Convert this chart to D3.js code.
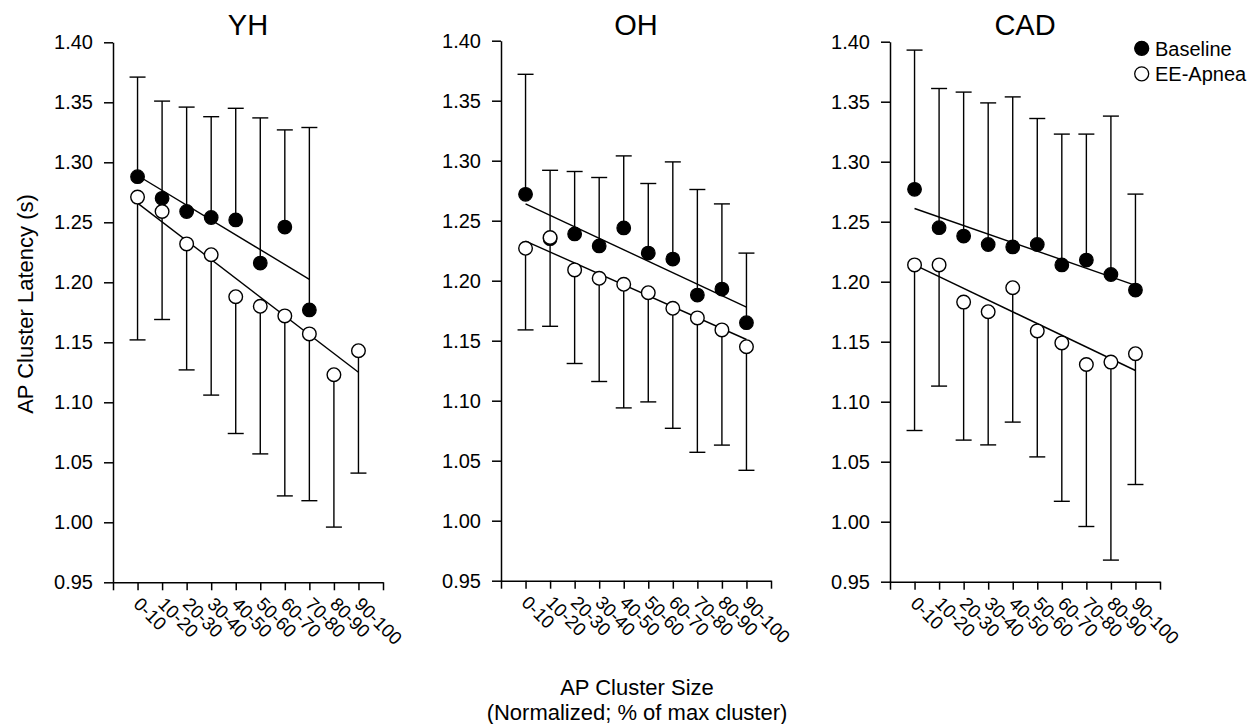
<!DOCTYPE html>
<html>
<head>
<meta charset="utf-8">
<script src="https://cdn.jsdelivr.net/npm/d3@7"></script>
<style>
  html, body { margin: 0; padding: 0; background: #fff; }
  svg { display: block; font-family: "Liberation Sans", Arial, sans-serif; }
</style>
</head>
<body>
<svg id="chart" width="1255" height="724"></svg>
<script>
// ---------------- data ----------------
const categories = ["0-10","10-20","20-30","30-40","40-50","50-60","60-70","70-80","80-90","90-100"];
const panelNames = ["YH", "OH", "CAD"];
const seriesNames = ["Baseline", "EE-Apnea"];
const yTicks = [0.95, 1.00, 1.05, 1.10, 1.15, 1.20, 1.25, 1.30, 1.35, 1.40];

// YH
const yhBaseline      = [1.288, 1.270, 1.259, 1.254, 1.252, 1.216, 1.246, 1.177, null, null];
const yhBaselineUpper = [1.371, 1.351, 1.346, 1.338, 1.345, 1.337, 1.327, 1.329, null, null];
const yhApnea         = [1.271, 1.259, 1.232, 1.223, 1.188, 1.180, 1.172, 1.157, 1.123, 1.143];
const yhApneaLower    = [1.152, 1.169, 1.127, 1.106, 1.074, 1.057, 1.022, 1.018, 0.996, 1.041];
const yhBaselineFit   = [1.289, 1.2025];   // from 0-10 to 70-80
const yhApneaFit      = [1.266, 1.125];    // from 0-10 to 90-100

// OH
const ohBaseline      = [1.272, 1.235, 1.239, 1.229, 1.244, 1.223, 1.218, 1.188, 1.193, 1.165];
const ohBaselineUpper = [1.372, 1.292, 1.291, 1.286, 1.304, 1.281, 1.299, 1.276, 1.264, 1.223];
const ohApnea         = [1.227, 1.236, 1.209, 1.202, 1.197, 1.190, 1.177, 1.169, 1.159, 1.145];
const ohApneaLower    = [1.159, 1.162, 1.131, 1.116, 1.094, 1.099, 1.077, 1.057, 1.063, 1.042];
const ohBaselineFit   = [1.264, 1.178];
const ohApneaFit      = [1.233, 1.151];

// CAD
const cadBaseline      = [1.277, 1.245, 1.238, 1.231, 1.229, 1.231, 1.214, 1.218, 1.206, 1.193];
const cadBaselineUpper = [1.393, 1.361, 1.358, 1.349, 1.354, 1.336, 1.323, 1.323, 1.338, 1.273];
const cadApnea         = [1.214, 1.214, 1.183, 1.175, 1.195, 1.159, 1.149, 1.131, 1.133, 1.140];
const cadApneaLower    = [1.076, 1.113, 1.068, 1.064, 1.083, 1.054, 1.017, 0.996, 0.968, 1.031];
const cadBaselineFit   = [1.261, 1.197];
const cadApneaFit      = [1.214, 1.126];

// ---------------- assemble ----------------
const panels = [
  { name: panelNames[0], base: yhBaseline, baseUp: yhBaselineUpper, ap: yhApnea, apLow: yhApneaLower,
    baseFit: yhBaselineFit, baseFitRange: [categories[0], categories[7]],
    apFit: yhApneaFit, apFitRange: [categories[0], categories[9]] },
  { name: panelNames[1], base: ohBaseline, baseUp: ohBaselineUpper, ap: ohApnea, apLow: ohApneaLower,
    baseFit: ohBaselineFit, baseFitRange: [categories[0], categories[9]],
    apFit: ohApneaFit, apFitRange: [categories[0], categories[9]] },
  { name: panelNames[2], base: cadBaseline, baseUp: cadBaselineUpper, ap: cadApnea, apLow: cadApneaLower,
    baseFit: cadBaselineFit, baseFitRange: [categories[0], categories[9]],
    apFit: cadApneaFit, apFitRange: [categories[0], categories[9]] }
];

// ---------------- layout ----------------
const layout = [
  { left: 113, top: 42.3, bottom: 582.3 },
  { left: 501, top: 40.7, bottom: 580.7 },
  { left: 890, top: 41.7, bottom: 581.7 }
];
const plotW = 270;
const R = 6.8;
const capHalf = 8;
const font = "'Liberation Sans', Arial, sans-serif";

const svg = d3.select("#chart");
svg.append("rect").attr("width", 1255).attr("height", 724).attr("fill", "#fff");

panels.forEach((p, pi) => {
  const L = layout[pi];
  // x position: category index + 1 on a 0..11 linear scale
  const x = d3.scaleLinear().domain([0, categories.length + 1]).range([L.left, L.left + plotW]);
  const xc = c => x(categories.indexOf(c) + 1);
  const y = d3.scaleLinear().domain([0.95, 1.40]).range([L.bottom, L.top]);

  const g = svg.append("g");

  // y axis
  const yAxis = d3.axisLeft(y).tickValues(yTicks).tickFormat(d3.format(".2f"))
    .tickSize(9).tickSizeOuter(0).tickPadding(11);
  const ya = g.append("g").attr("transform", `translate(${L.left},0)`).call(yAxis);
  ya.select(".domain").attr("stroke", "#000").attr("stroke-width", 1.5);
  ya.selectAll(".tick line").attr("stroke", "#000").attr("stroke-width", 1.5);
  ya.selectAll(".tick text").attr("font-size", 20).attr("font-family", font).attr("fill", "#000");

  // x axis
  const xAxis = d3.axisBottom(x).tickValues(d3.range(0, categories.length + 2))
    .tickFormat("").tickSize(8).tickSizeOuter(0);
  const xa = g.append("g").attr("transform", `translate(0,${L.bottom})`).call(xAxis);
  xa.select(".domain").attr("stroke", "#000").attr("stroke-width", 1.5);
  xa.selectAll(".tick line").attr("stroke", "#000").attr("stroke-width", 1.5);

  // rotated category labels
  g.append("g").selectAll("text").data(categories).join("text")
    .attr("transform", d => `translate(${xc(d) - 5},${L.bottom + 23}) rotate(45)`)
    .attr("font-size", 18.5).attr("font-family", font).attr("fill", "#000")
    .text(d => d);

  // title
  g.append("text").attr("x", L.left + plotW / 2).attr("y", 35)
    .attr("text-anchor", "middle").attr("font-size", 29).attr("font-family", font)
    .text(p.name);

  // error bars: baseline upward, apnea downward
  const baseRows = categories.map((c, i) => ({ c, v: p.base[i], e: p.baseUp[i] })).filter(d => d.v != null);
  const apRows = categories.map((c, i) => ({ c, v: p.ap[i], e: p.apLow[i] })).filter(d => d.v != null);

  const eb = g.append("g").attr("stroke", "#000").attr("stroke-width", 1.4);
  [baseRows, apRows].forEach(rows => {
    eb.selectAll(null).data(rows).join("line")
      .attr("x1", d => xc(d.c)).attr("x2", d => xc(d.c))
      .attr("y1", d => y(d.v)).attr("y2", d => y(d.e));
    eb.selectAll(null).data(rows).join("line")
      .attr("x1", d => xc(d.c) - capHalf).attr("x2", d => xc(d.c) + capHalf)
      .attr("y1", d => y(d.e)).attr("y2", d => y(d.e));
  });

  // regression lines
  const fits = [
    { range: p.baseFitRange, vals: p.baseFit },
    { range: p.apFitRange, vals: p.apFit }
  ];
  g.append("g").selectAll("line").data(fits).join("line")
    .attr("x1", d => xc(d.range[0])).attr("x2", d => xc(d.range[1]))
    .attr("y1", d => y(d.vals[0])).attr("y2", d => y(d.vals[1]))
    .attr("stroke", "#000").attr("stroke-width", 1.4);

  // markers
  g.append("g").selectAll("circle").data(baseRows).join("circle")
    .attr("cx", d => xc(d.c)).attr("cy", d => y(d.v)).attr("r", R)
    .attr("fill", "#000").attr("stroke", "#000").attr("stroke-width", 1.2);
  g.append("g").selectAll("circle").data(apRows).join("circle")
    .attr("cx", d => xc(d.c)).attr("cy", d => y(d.v)).attr("r", R)
    .attr("fill", "#fff").attr("stroke", "#000").attr("stroke-width", 1.4);
});

// y axis title
svg.append("text")
  .attr("transform", "translate(33,304) rotate(-90)")
  .attr("text-anchor", "middle").attr("font-size", 22).attr("font-family", font)
  .text("AP Cluster Latency (s)");

// x axis title
svg.append("text").attr("x", 637).attr("y", 695)
  .attr("text-anchor", "middle").attr("font-size", 22).attr("font-family", font)
  .text("AP Cluster Size");
svg.append("text").attr("x", 637).attr("y", 720)
  .attr("text-anchor", "middle").attr("font-size", 22).attr("font-family", font)
  .text("(Normalized; % of max cluster)");

// legend
const legend = svg.append("g");
seriesNames.forEach((s, i) => {
  const cy = 48.3 + i * 25.5;
  legend.append("circle").attr("cx", 1141.7).attr("cy", cy).attr("r", 7)
    .attr("fill", i === 0 ? "#000" : "#fff").attr("stroke", "#000").attr("stroke-width", 1.3);
  legend.append("text").attr("x", 1155).attr("y", cy + 7.2)
    .attr("font-size", 20).attr("font-family", font).text(s);
});
</script>
</body>
</html>
